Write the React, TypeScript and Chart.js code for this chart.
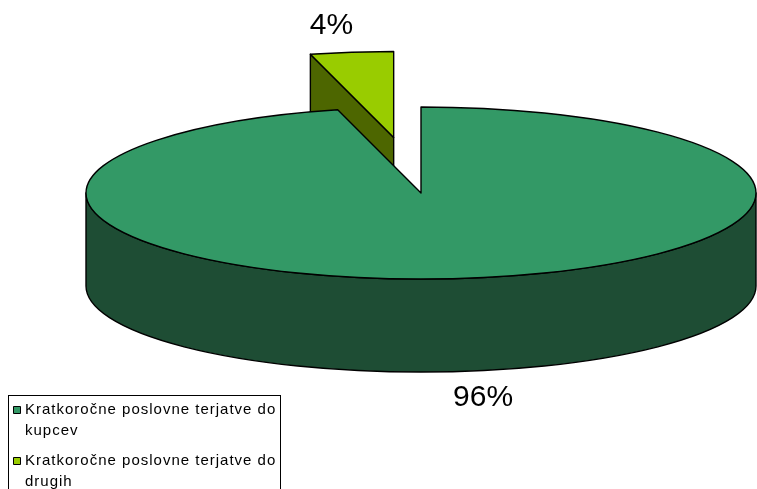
import React, { useEffect, useRef } from 'react';
import { Chart, PieController, ArcElement, Legend } from 'chart.js';

// Structure of short-term operating receivables (share of total, %)
const CATEGORIES = [
  'Kratkoročne poslovne terjatve do kupcev',
  'Kratkoročne poslovne terjatve do drugih',
];
const SHARES = [96, 4];

// Slice colours: top faces and darker side walls
const TOP_COLORS = ['#339966', '#99cc00'];
const SIDE_COLORS = ['#1e4d34', '#4d6600'];
const OUTLINE = '#000000';
const OUTLINE_WIDTH = 1.4;
const FONT_FAMILY = '"Liberation Sans", Arial, Helvetica, sans-serif';

// 3D pie projection
const PIE_X = 421;
const PIE_Y = 193;
const PIE_RADIUS = 335;
const TILT = 86 / 335;
const DEPTH = 93;
const EXPLODE = [0, 218];
const LABEL_RX = 1.48;
const LABEL_RY = 1.31;

// Legend
const LEGEND_FONT_SIZE = 15;
const LEGEND_SPACING = '1px';
const LEGEND_WRAP_CHARS = 34;
const LEGEND_FRAME = { left: 8.5, top: 395.5, right: 280.5, bottom: 520 };

const TAU = Math.PI * 2;

// Break a category name into legend lines of limited length
function wrapLabel(text: string, maxChars: number): string[] {
  const lines: string[] = [];
  let line = '';
  for (const word of text.split(' ')) {
    const test = line ? line + ' ' + word : word;
    if (line && test.length > maxChars) {
      lines.push(line);
      line = word;
    } else {
      line = test;
    }
  }
  if (line) lines.push(line);
  return lines;
}

type Slice = {
  arc: any;
  i: number;
  s: number;
  e: number;
  r: number;
  mid: number;
  cx: number;
  cy: number;
};

function drawSides(ctx: CanvasRenderingContext2D, sl: Slice) {
  const { cx, cy, r, s, e, i } = sl;
  const ry = r * TILT;
  const face = (build: () => void) => {
    ctx.beginPath();
    build();
    ctx.closePath();
    ctx.fillStyle = SIDE_COLORS[i];
    ctx.fill();
    ctx.stroke();
  };
  const radial = (a: number) => {
    const x = cx + r * Math.cos(a);
    const y = cy + ry * Math.sin(a);
    face(() => {
      ctx.moveTo(cx, cy);
      ctx.lineTo(x, y);
      ctx.lineTo(x, y + DEPTH);
      ctx.lineTo(cx, cy + DEPTH);
    });
  };
  // cut faces turned towards the viewer
  if (Math.cos(s) < -1e-6) radial(s);
  if (Math.cos(e) > 1e-6) radial(e);
  // outer wall on the front half of the rim
  for (let n = Math.floor(s / TAU) - 1; n <= Math.ceil(e / TAU); n++) {
    const lo = Math.max(s, n * TAU);
    const hi = Math.min(e, n * TAU + Math.PI);
    if (hi <= lo) continue;
    face(() => {
      ctx.ellipse(cx, cy, r, ry, 0, lo, hi);
      ctx.ellipse(cx, cy + DEPTH, r, ry, 0, hi, lo, true);
    });
  }
}

function drawTop(ctx: CanvasRenderingContext2D, sl: Slice, area: any) {
  const { arc, cx, cy, r, s, e } = sl;
  ctx.save();
  ctx.translate(cx, cy);
  ctx.scale(1, TILT);
  ctx.translate(-arc.x, -arc.y);
  arc.draw(ctx, area);
  ctx.restore();
  ctx.beginPath();
  ctx.moveTo(cx, cy);
  ctx.ellipse(cx, cy, r, r * TILT, 0, s, e);
  ctx.closePath();
  ctx.stroke();
}

// Pie drawn as a tilted disc with depth and an exploded slice
class Pie3DController extends PieController {
  static id = 'pie3d';

  draw() {
    const chart: any = this.chart;
    const ctx: CanvasRenderingContext2D = chart.ctx;
    const meta: any = (this as any)._cachedMeta;
    const values: number[] = (this as any).getDataset().data;
    const total = values.reduce((a, b) => a + b, 0);

    const slices: Slice[] = meta.data
      .map((arc: any, i: number) => {
        const s = arc.startAngle;
        const e = arc.endAngle;
        const mid = (s + e) / 2;
        const ex = EXPLODE[i] || 0;
        return {
          arc, i, s, e, r: arc.outerRadius, mid,
          cx: PIE_X + ex * Math.cos(mid),
          cy: PIE_Y + ex * TILT * Math.sin(mid),
        };
      })
      .filter((sl: Slice) => !sl.arc.hidden && sl.e > sl.s);
    slices.sort((a, b) => a.cy - b.cy);

    ctx.save();
    ctx.lineWidth = OUTLINE_WIDTH;
    ctx.strokeStyle = OUTLINE;
    ctx.lineJoin = 'round';
    for (const sl of slices) drawSides(ctx, sl);
    for (const sl of slices) drawTop(ctx, sl, chart.chartArea);

    (ctx as any).letterSpacing = '0px';
    ctx.font = `30px ${FONT_FAMILY}`;
    ctx.fillStyle = '#000000';
    ctx.textAlign = 'center';
    ctx.textBaseline = 'middle';
    for (const sl of slices) {
      const front = Math.sin(sl.mid) > 0;
      const x = sl.cx + LABEL_RX * sl.r * Math.cos(sl.mid);
      const y = sl.cy + LABEL_RY * sl.r * TILT * Math.sin(sl.mid) + (front ? DEPTH : 0);
      ctx.fillText(Math.round((values[sl.i] / total) * 100) + '%', x, y);
    }
    ctx.restore();
  }
}

// Legend text tracking (applied while the legend is measured and drawn) and its frame
const legendFrame = {
  id: 'legendFrame',
  beforeLayout(chart: any) {
    chart.ctx.letterSpacing = LEGEND_SPACING;
  },
  afterLayout(chart: any) {
    chart.ctx.letterSpacing = '0px';
  },
  beforeDraw(chart: any) {
    chart.ctx.letterSpacing = LEGEND_SPACING;
  },
  afterDraw(chart: any) {
    const ctx = chart.ctx;
    ctx.letterSpacing = '0px';
    ctx.save();
    ctx.strokeStyle = OUTLINE;
    ctx.lineWidth = 1;
    ctx.strokeRect(
      LEGEND_FRAME.left,
      LEGEND_FRAME.top,
      LEGEND_FRAME.right - LEGEND_FRAME.left,
      LEGEND_FRAME.bottom - LEGEND_FRAME.top
    );
    ctx.restore();
  },
};

Chart.register(Pie3DController, ArcElement, Legend);

export default function App() {
  const canvasRef = useRef<HTMLCanvasElement>(null);

  useEffect(() => {
    const canvas = canvasRef.current;
    if (!canvas) return;
    const chart = new Chart(canvas, {
      type: 'pie3d' as any,
      data: {
        labels: CATEGORIES,
        datasets: [
          {
            data: SHARES,
            backgroundColor: TOP_COLORS,
            borderWidth: 0,
            clip: false,
          } as any,
        ],
      },
      options: {
        responsive: false,
        animation: false,
        devicePixelRatio: 1,
        events: [],
        radius: PIE_RADIUS,
        layout: { padding: { left: 7.5, bottom: -15.5, top: 0, right: 0 } },
        plugins: {
          legend: {
            position: 'left',
            align: 'end',
            maxWidth: 360,
            labels: {
              boxWidth: 1,
              boxHeight: 7,
              usePointStyle: true,
              pointStyle: 'rect',
              padding: 9,
              color: '#000000',
              font: { family: FONT_FAMILY, size: LEGEND_FONT_SIZE, lineHeight: 1.4 },
              generateLabels: (c: any) => {
                const ds = c.data.datasets[0];
                return (c.data.labels as string[]).map((label, i) => ({
                  text: wrapLabel(label, LEGEND_WRAP_CHARS),
                  fillStyle: ds.backgroundColor[i],
                  strokeStyle: OUTLINE,
                  lineWidth: 1,
                  pointStyle: 'rect',
                  hidden: false,
                  index: i,
                  datasetIndex: 0,
                }));
              },
            },
          },
          tooltip: { enabled: false },
        },
      } as any,
      plugins: [legendFrame],
    });
    return () => chart.destroy();
  }, []);

  return (
    <canvas
      ref={canvasRef}
      width={757}
      height={489}
      style={{ position: 'absolute', left: 0, top: 0, display: 'block' }}
    />
  );
}
